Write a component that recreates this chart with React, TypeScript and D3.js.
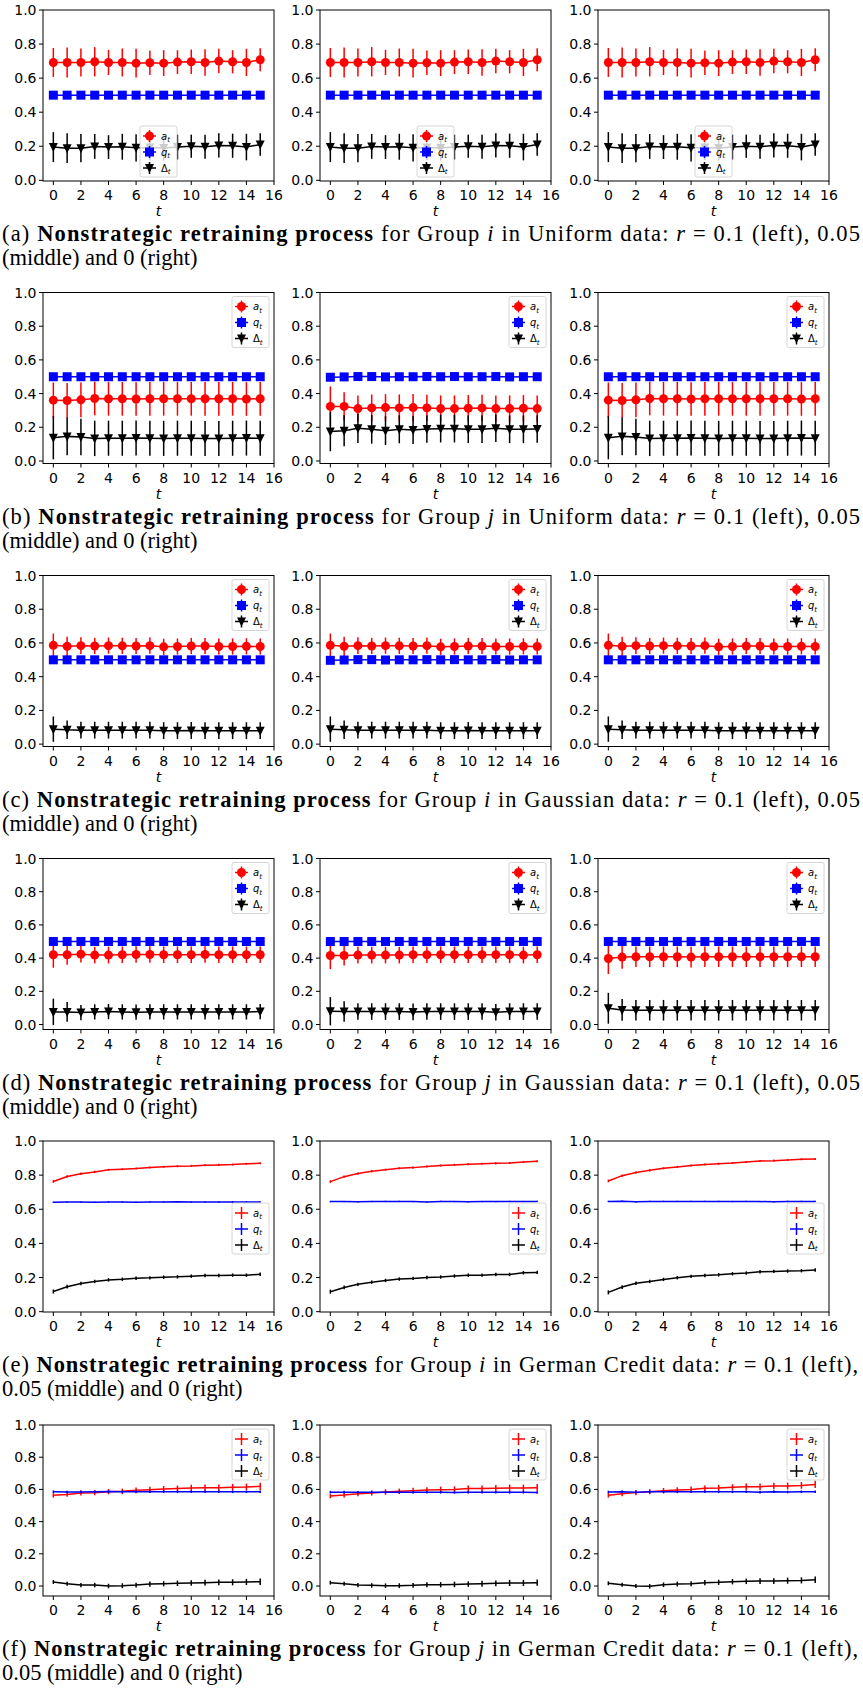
import React from "react"
import * as d3 from "d3"

// retraining rounds t
const steps = [0, 1, 2, 3, 4, 5, 6, 7, 8, 9, 10, 11, 12, 13, 14, 15]
const yTicks = [0, 0.2, 0.4, 0.6, 0.8, 1.0]
const xTicks = [0, 2, 4, 6, 8, 10, 12, 14, 16]

// (a) Uniform, group i (all three r look the same)
const uniI_a = [0.692, 0.692, 0.692, 0.696, 0.692, 0.692, 0.688, 0.69, 0.688, 0.694, 0.696, 0.692, 0.7, 0.696, 0.692, 0.708]
const uniI_aErr = [0.085, 0.088, 0.082, 0.086, 0.074, 0.082, 0.084, 0.072, 0.076, 0.07, 0.072, 0.078, 0.072, 0.068, 0.08, 0.068]
const uniI_q = [0.5, 0.5, 0.5, 0.5, 0.5, 0.5, 0.5, 0.5, 0.5, 0.5, 0.5, 0.5, 0.5, 0.5, 0.5, 0.5]
const uniI_d = [0.195, 0.189, 0.189, 0.199, 0.195, 0.197, 0.191, 0.193, 0.19, 0.195, 0.2, 0.197, 0.205, 0.203, 0.195, 0.21]
const uniI_dErr = [0.088, 0.087, 0.083, 0.073, 0.07, 0.076, 0.08, 0.075, 0.074, 0.073, 0.068, 0.071, 0.071, 0.071, 0.078, 0.066]

// (b) Uniform, group j
const uniJ_a1 = [0.361, 0.359, 0.363, 0.371, 0.369, 0.369, 0.368, 0.369, 0.369, 0.369, 0.369, 0.369, 0.369, 0.369, 0.368, 0.369]
const uniJ_aErr1 = [0.105, 0.104, 0.103, 0.1, 0.1, 0.1, 0.1, 0.1, 0.1, 0.1, 0.1, 0.1, 0.1, 0.1, 0.1, 0.1]
const uniJ_d1 = [0.138, 0.146, 0.142, 0.134, 0.135, 0.135, 0.136, 0.135, 0.134, 0.135, 0.135, 0.134, 0.134, 0.135, 0.136, 0.135]
const uniJ_dErr1 = [0.128, 0.112, 0.108, 0.105, 0.104, 0.104, 0.104, 0.104, 0.104, 0.104, 0.104, 0.104, 0.104, 0.104, 0.104, 0.104]
const uniJ_a2 = [0.324, 0.324, 0.311, 0.315, 0.317, 0.315, 0.317, 0.315, 0.311, 0.311, 0.313, 0.315, 0.311, 0.311, 0.313, 0.311]
const uniJ_aErr2 = [0.118, 0.084, 0.078, 0.08, 0.08, 0.08, 0.08, 0.078, 0.078, 0.078, 0.078, 0.078, 0.078, 0.078, 0.078, 0.078]
const uniJ_q2 = [0.497, 0.499, 0.501, 0.501, 0.499, 0.5, 0.5, 0.501, 0.5, 0.501, 0.5, 0.5, 0.501, 0.499, 0.5, 0.5]
const uniJ_d2 = [0.175, 0.179, 0.194, 0.188, 0.18, 0.188, 0.184, 0.19, 0.192, 0.192, 0.188, 0.188, 0.194, 0.188, 0.188, 0.19]
const uniJ_dErr2 = [0.117, 0.092, 0.087, 0.085, 0.085, 0.083, 0.083, 0.082, 0.082, 0.082, 0.082, 0.082, 0.082, 0.082, 0.082, 0.082]

// (c) Gaussian, group i
const gauI_a = [0.586, 0.58, 0.584, 0.582, 0.584, 0.583, 0.582, 0.584, 0.577, 0.579, 0.582, 0.582, 0.579, 0.579, 0.58, 0.579]
const gauI_aErr = [0.07, 0.057, 0.05, 0.048, 0.048, 0.048, 0.048, 0.048, 0.048, 0.048, 0.048, 0.048, 0.048, 0.048, 0.048, 0.048]
const gauI_d = [0.089, 0.085, 0.083, 0.083, 0.083, 0.083, 0.083, 0.083, 0.08, 0.08, 0.081, 0.08, 0.08, 0.08, 0.08, 0.08]
const gauI_dErr = [0.075, 0.055, 0.05, 0.05, 0.05, 0.05, 0.05, 0.05, 0.05, 0.05, 0.05, 0.05, 0.05, 0.05, 0.05, 0.05]

// (d) Gaussian, group j
const gauJ_a1 = [0.42, 0.42, 0.424, 0.418, 0.418, 0.42, 0.422, 0.422, 0.42, 0.42, 0.42, 0.422, 0.42, 0.42, 0.42, 0.42]
const gauJ_aErr1 = [0.078, 0.06, 0.05, 0.05, 0.05, 0.05, 0.05, 0.05, 0.05, 0.05, 0.05, 0.05, 0.05, 0.05, 0.05, 0.05]
const gauJ_d1 = [0.076, 0.076, 0.072, 0.076, 0.078, 0.076, 0.074, 0.076, 0.076, 0.076, 0.076, 0.076, 0.076, 0.076, 0.076, 0.078]
const gauJ_dErr1 = [0.08, 0.06, 0.046, 0.046, 0.046, 0.046, 0.046, 0.046, 0.046, 0.046, 0.046, 0.046, 0.046, 0.046, 0.046, 0.046]
const gauJ_a2 = [0.416, 0.416, 0.418, 0.418, 0.418, 0.418, 0.42, 0.42, 0.42, 0.42, 0.42, 0.42, 0.42, 0.42, 0.418, 0.42]
const gauJ_aErr2 = [0.082, 0.06, 0.05, 0.05, 0.05, 0.05, 0.05, 0.05, 0.05, 0.05, 0.05, 0.05, 0.05, 0.05, 0.05, 0.05]
const gauJ_d2 = [0.08, 0.078, 0.078, 0.078, 0.078, 0.078, 0.076, 0.078, 0.078, 0.078, 0.078, 0.078, 0.074, 0.078, 0.078, 0.078]
const gauJ_dErr2 = [0.085, 0.062, 0.05, 0.05, 0.05, 0.05, 0.05, 0.05, 0.05, 0.05, 0.05, 0.05, 0.05, 0.05, 0.05, 0.05]
const gauJ_a3 = [0.398, 0.406, 0.408, 0.408, 0.408, 0.408, 0.406, 0.408, 0.408, 0.408, 0.408, 0.408, 0.408, 0.408, 0.408, 0.408]
const gauJ_aErr3 = [0.094, 0.07, 0.062, 0.062, 0.062, 0.062, 0.062, 0.062, 0.062, 0.062, 0.062, 0.062, 0.062, 0.062, 0.062, 0.062]
const gauJ_d3 = [0.098, 0.088, 0.086, 0.086, 0.086, 0.086, 0.086, 0.086, 0.086, 0.086, 0.086, 0.086, 0.086, 0.086, 0.086, 0.086]
const gauJ_dErr3 = [0.093, 0.065, 0.062, 0.062, 0.062, 0.062, 0.062, 0.062, 0.062, 0.062, 0.062, 0.062, 0.062, 0.062, 0.062, 0.062]

// (e) German Credit, group i
const gerI_a1 = [0.763, 0.792, 0.808, 0.819, 0.831, 0.835, 0.839, 0.845, 0.849, 0.852, 0.854, 0.858, 0.86, 0.862, 0.866, 0.87]
const gerI_q1 = [0.641, 0.642, 0.642, 0.641, 0.643, 0.643, 0.641, 0.643, 0.643, 0.644, 0.642, 0.642, 0.643, 0.643, 0.643, 0.643]
const gerI_d1 = [0.118, 0.146, 0.165, 0.177, 0.186, 0.19, 0.196, 0.198, 0.202, 0.204, 0.208, 0.212, 0.212, 0.214, 0.214, 0.219]
const gerI_a2 = [0.762, 0.791, 0.809, 0.823, 0.832, 0.84, 0.844, 0.85, 0.856, 0.86, 0.864, 0.867, 0.869, 0.871, 0.877, 0.881]
const gerI_q2 = [0.645, 0.645, 0.644, 0.645, 0.646, 0.646, 0.645, 0.642, 0.646, 0.645, 0.644, 0.645, 0.645, 0.646, 0.645, 0.646]
const gerI_d2 = [0.117, 0.142, 0.16, 0.173, 0.183, 0.191, 0.195, 0.2, 0.203, 0.209, 0.214, 0.214, 0.218, 0.218, 0.228, 0.23]
const gerI_a3 = [0.766, 0.797, 0.815, 0.828, 0.84, 0.848, 0.856, 0.862, 0.867, 0.871, 0.877, 0.883, 0.885, 0.889, 0.893, 0.895]
const gerI_q3 = [0.646, 0.647, 0.644, 0.646, 0.646, 0.646, 0.646, 0.646, 0.646, 0.645, 0.646, 0.645, 0.644, 0.646, 0.646, 0.646]
const gerI_d3 = [0.113, 0.144, 0.166, 0.177, 0.189, 0.199, 0.207, 0.212, 0.216, 0.222, 0.226, 0.234, 0.236, 0.238, 0.24, 0.244]
const gerI_aErr = [0.008, 0.007, 0.007, 0.007, 0.006, 0.006, 0.006, 0.006, 0.006, 0.006, 0.006, 0.006, 0.006, 0.006, 0.006, 0.006]
const gerI_qErr = [0.004, 0.004, 0.004, 0.004, 0.004, 0.004, 0.004, 0.004, 0.004, 0.004, 0.004, 0.004, 0.004, 0.004, 0.004, 0.004]
const gerI_dErr = [0.012, 0.011, 0.01, 0.01, 0.01, 0.01, 0.01, 0.01, 0.01, 0.01, 0.01, 0.01, 0.01, 0.01, 0.01, 0.01]

// (f) German Credit, group j
const gerJ_a1 = [0.563, 0.569, 0.578, 0.58, 0.586, 0.588, 0.594, 0.598, 0.602, 0.605, 0.609, 0.611, 0.611, 0.613, 0.615, 0.619]
const gerJ_q1 = [0.586, 0.584, 0.584, 0.585, 0.587, 0.585, 0.586, 0.586, 0.586, 0.585, 0.586, 0.586, 0.586, 0.585, 0.585, 0.585]
const gerJ_d1 = [0.025, 0.014, 0.006, 0.006, 0.0, 0.002, 0.006, 0.012, 0.014, 0.017, 0.019, 0.021, 0.023, 0.023, 0.025, 0.027]
const gerJ_a2 = [0.559, 0.565, 0.573, 0.578, 0.584, 0.588, 0.592, 0.596, 0.598, 0.6, 0.605, 0.605, 0.607, 0.609, 0.609, 0.611]
const gerJ_q2 = [0.583, 0.583, 0.582, 0.582, 0.583, 0.583, 0.582, 0.582, 0.582, 0.581, 0.582, 0.582, 0.582, 0.582, 0.582, 0.581]
const gerJ_d2 = [0.021, 0.014, 0.006, 0.004, 0.002, 0.002, 0.004, 0.008, 0.008, 0.01, 0.012, 0.014, 0.017, 0.019, 0.019, 0.021]
const gerJ_a3 = [0.563, 0.573, 0.58, 0.586, 0.592, 0.596, 0.6, 0.607, 0.609, 0.613, 0.617, 0.617, 0.621, 0.621, 0.625, 0.631]
const gerJ_q3 = [0.584, 0.586, 0.583, 0.585, 0.585, 0.585, 0.585, 0.585, 0.585, 0.585, 0.586, 0.583, 0.586, 0.584, 0.585, 0.585]
const gerJ_d3 = [0.017, 0.008, 0.0, -0.002, 0.008, 0.012, 0.014, 0.021, 0.023, 0.027, 0.029, 0.031, 0.031, 0.033, 0.035, 0.039]
const gerJ_aErr = [0.014, 0.015, 0.016, 0.016, 0.017, 0.017, 0.018, 0.018, 0.019, 0.019, 0.02, 0.02, 0.02, 0.021, 0.021, 0.022]
const gerJ_qErr = [0.008, 0.008, 0.008, 0.008, 0.008, 0.008, 0.008, 0.008, 0.008, 0.008, 0.008, 0.008, 0.008, 0.008, 0.008, 0.008]
const gerJ_dErr = [0.012, 0.013, 0.013, 0.014, 0.014, 0.015, 0.015, 0.016, 0.016, 0.017, 0.017, 0.018, 0.018, 0.019, 0.019, 0.02]

const zeroErr = [0, 0, 0, 0, 0, 0, 0, 0, 0, 0, 0, 0, 0, 0, 0, 0]

const captionLetters = ["a", "b", "c", "d", "e", "f"]
const captionGroups = ["i", "j", "i", "j", "i", "j"]
const captionData = ["Uniform", "Uniform", "Gaussian", "Gaussian", "German Credit", "German Credit"]

const W = 231
const H = 171
const panelLefts = [43, 320, 598]
const rowTops = [10, 292.5, 575.5, 858.5, 1141, 1425]
const rowYMin = [-0.004, -0.015, -0.014, -0.03, -0.002, -0.062]
const rowLegend = ["lower center", "upper right", "upper right", "upper right", "center right", "upper right"]

const RED = "#ff0000"
const BLUE = "#0000ff"
const BLACK = "#000000"
const tickFont = "'DejaVu Sans', sans-serif"
const captionFont = "'Liberation Serif', 'Times New Roman', serif"

type Series = { mean: number[]; err: number[]; color: string; marker: string; label: string }

function mk(a: number[], aErr: number[], q: number[], qErr: number[], d: number[], dErr: number[], plus: boolean): Series[] {
    return [
        { mean: a, err: aErr, color: RED, marker: plus ? "+" : "o", label: "a" },
        { mean: q, err: qErr, color: BLUE, marker: plus ? "+" : "s", label: "q" },
        { mean: d, err: dErr, color: BLACK, marker: plus ? "+" : "v", label: "Δ" },
    ]
}

const rows: Series[][][] = [
    [
        mk(uniI_a, uniI_aErr, uniI_q, zeroErr, uniI_d, uniI_dErr, false),
        mk(uniI_a, uniI_aErr, uniI_q, zeroErr, uniI_d, uniI_dErr, false),
        mk(uniI_a, uniI_aErr, uniI_q, zeroErr, uniI_d, uniI_dErr, false),
    ],
    [
        mk(uniJ_a1, uniJ_aErr1, uniI_q, zeroErr, uniJ_d1, uniJ_dErr1, false),
        mk(uniJ_a2, uniJ_aErr2, uniJ_q2, zeroErr, uniJ_d2, uniJ_dErr2, false),
        mk(uniJ_a1, uniJ_aErr1, uniI_q, zeroErr, uniJ_d1, uniJ_dErr1, false),
    ],
    [
        mk(gauI_a, gauI_aErr, uniI_q, zeroErr, gauI_d, gauI_dErr, false),
        mk(gauI_a, gauI_aErr, uniJ_q2, zeroErr, gauI_d, gauI_dErr, false),
        mk(gauI_a, gauI_aErr, uniI_q, zeroErr, gauI_d, gauI_dErr, false),
    ],
    [
        mk(gauJ_a1, gauJ_aErr1, uniI_q, zeroErr, gauJ_d1, gauJ_dErr1, false),
        mk(gauJ_a2, gauJ_aErr2, uniI_q, zeroErr, gauJ_d2, gauJ_dErr2, false),
        mk(gauJ_a3, gauJ_aErr3, uniI_q, zeroErr, gauJ_d3, gauJ_dErr3, false),
    ],
    [
        mk(gerI_a1, gerI_aErr, gerI_q1, gerI_qErr, gerI_d1, gerI_dErr, true),
        mk(gerI_a2, gerI_aErr, gerI_q2, gerI_qErr, gerI_d2, gerI_dErr, true),
        mk(gerI_a3, gerI_aErr, gerI_q3, gerI_qErr, gerI_d3, gerI_dErr, true),
    ],
    [
        mk(gerJ_a1, gerJ_aErr, gerJ_q1, gerJ_qErr, gerJ_d1, gerJ_dErr, true),
        mk(gerJ_a2, gerJ_aErr, gerJ_q2, gerJ_qErr, gerJ_d2, gerJ_dErr, true),
        mk(gerJ_a3, gerJ_aErr, gerJ_q3, gerJ_qErr, gerJ_d3, gerJ_dErr, true),
    ],
]

function Marker({ kind, x, y, color }: { kind: string; x: number; y: number; color: string }) {
    const r = 4.5
    if (kind === "o") return <circle cx={x} cy={y} r={r} fill={color} />
    if (kind === "s") return <rect x={x - r} y={y - r} width={2 * r} height={2 * r} fill={color} />
    if (kind === "v")
        return <path d={`M${x},${y + r + 0.5}L${x - r},${y - r + 0.5}L${x + r},${y - r + 0.5}Z`} fill={color} />
    return null
}

function Legend({ x, y, series }: { x: number; y: number; series: Series[] }) {
    const bw = 37
    const bh = 51
    return (
        <g>
            <rect x={x} y={y} width={bw} height={bh} rx={2} fill="white" fillOpacity={0.8} stroke="#cccccc" strokeWidth={0.8} />
            {series.map((s, i) => {
                const cy = y + 10 + i * 16
                return (
                    <g key={i}>
                        <line x1={x + 3} x2={x + 16} y1={cy} y2={cy} stroke={s.color} strokeWidth={1.5} />
                        <line x1={x + 9.5} x2={x + 9.5} y1={cy - 6} y2={cy + 6} stroke={s.color} strokeWidth={1.5} />
                        <Marker kind={s.marker} x={x + 9.5} y={cy} color={s.color} />
                        <text x={x + 21} y={cy + 3.5} fontFamily={tickFont} fontSize={10}>
                            <tspan fontStyle={s.label === "Δ" ? "normal" : "italic"}>{s.label}</tspan>
                            <tspan fontSize={7} dy={2.5} fontStyle="italic">t</tspan>
                        </text>
                    </g>
                )
            })}
        </g>
    )
}

function Panel({ left, top, yMin, series, legend }: { left: number; top: number; yMin: number; series: Series[]; legend: string }) {
    const x = d3.scaleLinear().domain([-0.75, 16]).range([left, left + W])
    const y = d3.scaleLinear().domain([yMin, 1]).range([top + H, top])
    const line = d3.line<number>().x((_, i) => x(steps[i])).y(d => y(d))
    const bottom = top + H
    let lx = left + W - 5 - 37
    let ly = top + 4
    if (legend === "lower center") {
        lx = left + (W - 37) / 2
        ly = bottom - 4 - 51
    } else if (legend === "center right") {
        ly = top + (H - 51) / 2 + 2
    }
    return (
        <g>
            {series.map((s, si) => (
                <g key={si}>
                    {s.mean.map((m, i) => (
                        <line key={i} x1={x(steps[i])} x2={x(steps[i])} y1={y(m - s.err[i])} y2={y(m + s.err[i])} stroke={s.color} strokeWidth={1.5} />
                    ))}
                    <path d={line(s.mean) || ""} fill="none" stroke={s.color} strokeWidth={1.5} />
                    {s.mean.map((m, i) => (
                        <Marker key={i} kind={s.marker} x={x(steps[i])} y={y(m)} color={s.color} />
                    ))}
                </g>
            ))}
            <Legend x={lx} y={ly} series={series} />
            <rect x={left} y={top} width={W} height={H} fill="none" stroke="black" strokeWidth={1} />
            {yTicks.map(v => (
                <g key={v}>
                    <line x1={left - 4} x2={left} y1={y(v)} y2={y(v)} stroke="black" strokeWidth={1} />
                    <text x={left - 6.5} y={y(v)} textAnchor="end" dominantBaseline="central" fontFamily={tickFont} fontSize={14}>
                        {v.toFixed(1)}
                    </text>
                </g>
            ))}
            {xTicks.map(v => (
                <g key={v}>
                    <line x1={x(v)} x2={x(v)} y1={bottom} y2={bottom + 4} stroke="black" strokeWidth={1} />
                    <text x={x(v)} y={bottom + 14} textAnchor="middle" dominantBaseline="central" fontFamily={tickFont} fontSize={14}>
                        {v}
                    </text>
                </g>
            ))}
            <text x={left + W / 2} y={bottom + 30} textAnchor="middle" dominantBaseline="central" fontFamily={tickFont} fontSize={14} fontStyle="italic">
                t
            </text>
        </g>
    )
}

function Caption({ row, y }: { row: number; y: number }) {
    const wrapLate = row < 4
    return (
        <g fontFamily={captionFont} fontSize={22.5}>
            <text x={2} y={y} textLength={wrapLate ? 858 : 856} lengthAdjust="spacing">
                <tspan>({captionLetters[row]}) </tspan>
                <tspan fontWeight="bold">Nonstrategic retraining process</tspan>
                <tspan> for Group </tspan>
                <tspan fontStyle="italic">{captionGroups[row]}</tspan>
                <tspan> in {captionData[row]} data: </tspan>
                <tspan fontStyle="italic">r</tspan>
                <tspan>{wrapLate ? " = 0.1 (left), 0.05" : " = 0.1 (left),"}</tspan>
            </text>
            <text x={2} y={y + 24}>
                {wrapLate ? "(middle) and 0 (right)" : "0.05 (middle) and 0 (right)"}
            </text>
        </g>
    )
}

export default function App() {
    return (
        <svg width={863} height={1694} style={{ position: "absolute", left: 0, top: 0, background: "white" }}>
            {rows.map((panels, ri) => (
                <g key={ri}>
                    {panels.map((series, pi) => (
                        <Panel key={pi} left={panelLefts[pi]} top={rowTops[ri]} yMin={rowYMin[ri]} series={series} legend={rowLegend[ri]} />
                    ))}
                    <Caption row={ri} y={rowTops[ri] + H + 60} />
                </g>
            ))}
        </svg>
    )
}
